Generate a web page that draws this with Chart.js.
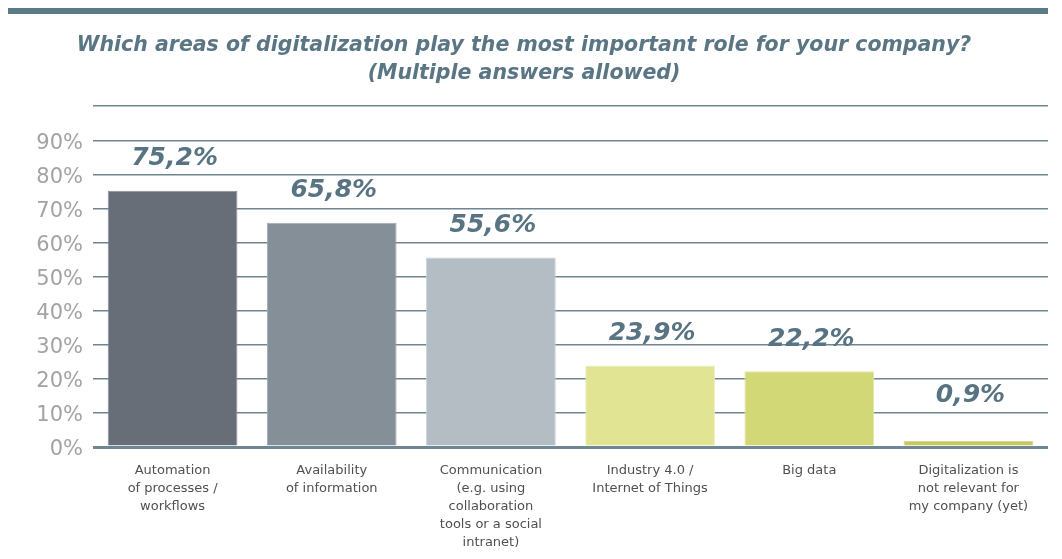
<!DOCTYPE html>
<html>
<head>
<meta charset="utf-8">
<script src="https://cdn.jsdelivr.net/npm/chart.js@4/dist/chart.umd.min.js"></script>
<style>
  body { margin: 0; background: #fff; }
  #rule { position: absolute; left: 8px; top: 8px; width: 1040px; height: 6px; background: #5d7b87; }
  #wrap { position: absolute; left: 0; top: 0; width: 1062px; height: 559px; }
</style>
</head>
<body>
<div id="rule"></div>
<div id="wrap"><canvas id="myCanvas"></canvas></div>
<script>
'use strict'

var categories = [
    ["Automation", "of processes /", "workflows"],
    ["Availability", "of information"],
    ["Communication", "(e.g. using", "collaboration", "tools or a social", "intranet)"],
    ["Industry 4.0 /", "Internet of Things"],
    ["Big data"],
    ["Digitalization is", "not relevant for", "my company (yet)"]
]
var values = [75.2, 65.8, 55.6, 23.9, 22.2, 0.9]
var barColors = ["#686e77", "#848f98", "#b3bdc3", "#e0e493", "#d3d877", "#c7c862"]
var barEdges = ["#8a9098", "#a3acb3", "#c9d0d4", "#ecefb8", "#e3e7a5", "#d6d78c"]
var tickValues = [0, 10, 20, 30, 40, 50, 60, 70, 80, 90, 100]
var titleLines = ["Which areas of digitalization play the most important role for your company?", "(Multiple answers allowed)"]

var canvas = document.getElementById("myCanvas")
var ctx = canvas.getContext("2d")

function formatValue(v){
    return v.toFixed(1).replace(".", ",") + "%"
}

// value labels sit above each bar, small bars get a floor so the text stays clear of the axis
var valueLabels = {
    id: "valueLabels",
    afterDatasetsDraw: function(chart){
        var c = chart.ctx
        var meta = chart.getDatasetMeta(0)
        var floorY = chart.scales.y.getPixelForValue(15)
        c.save()
        c.font = "italic bold 25px 'DejaVu Sans'"
        c.fillStyle = "#587482"
        c.textAlign = "center"
        c.textBaseline = "middle"
        for(let i = 0; i < meta.data.length; i++){
            var bar = meta.data[i]
            c.fillText(formatValue(values[i]), bar.x + 2, Math.min(bar.y - 32, floorY))
        }
        c.restore()
    }
}

new Chart(ctx, {
    type: 'bar',
    data: {
        labels: categories,
        datasets: [{
            data: values,
            backgroundColor: barColors,
            borderColor: barEdges,
            borderWidth: 1,
            minBarLength: 6,
            barPercentage: 0.815,
            categoryPercentage: 1
        }]
    },
    options: {
        responsive: true,
        maintainAspectRatio: false,
        animation: false,
        layout: { padding: { left: 0, right: 14, top: 0, bottom: 0 } },
        plugins: {
            legend: { display: false },
            tooltip: { enabled: false },
            title: {
                display: true,
                text: titleLines,
                color: "#5a7684",
                font: { family: "'DejaVu Sans'", size: 20.5, style: "italic", weight: "bold", lineHeight: 1.37 },
                padding: { top: 32, bottom: 18 }
            }
        },
        scales: {
            x: {
                grid: { display: false, drawTicks: false },
                border: { display: false },
                ticks: {
                    color: "#505050",
                    font: { family: "'DejaVu Sans'", size: 13, lineHeight: 1.38 },
                    padding: 15,
                    maxRotation: 0,
                    autoSkip: false
                },
                afterFit: function(s){ s.height = 112 }
            },
            y: {
                min: 0,
                max: 100,
                z: 1,
                afterBuildTicks: function(s){ s.ticks = tickValues.map(function(v){ return { value: v } }) },
                ticks: {
                    color: "#a3a3a3",
                    font: { family: "'DejaVu Sans'", size: 21 },
                    padding: 10,
                    labelOffset: 3,
                    callback: function(v){ return v === 100 ? "" : v + "%" }
                },
                grid: {
                    drawTicks: false,
                    color: function(c){ return c.tick && c.tick.value === 0 ? "#6f8793" : "rgba(72,104,118,0.8)" },
                    lineWidth: function(c){ return c.tick && c.tick.value === 0 ? 3 : 1.4 }
                },
                border: { display: false },
                afterFit: function(s){ s.width = 93 }
            }
        }
    },
    plugins: [valueLabels]
})
</script>
</body>
</html>
